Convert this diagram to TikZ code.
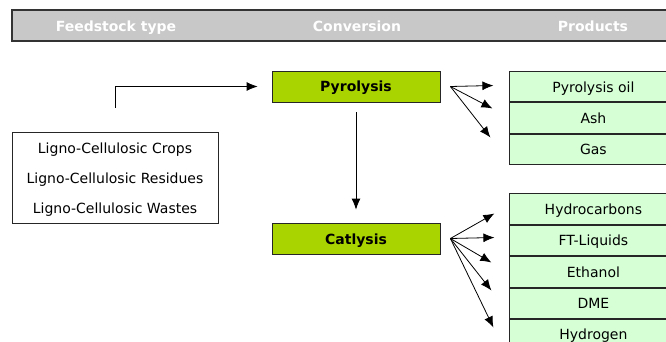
\documentclass[tikz,border=0pt]{standalone}
\usepackage{fontspec}
\setmainfont{DejaVu Sans}
\usetikzlibrary{arrows.meta}
\definecolor{headgray}{RGB}{200,200,200}
\definecolor{convgreen}{RGB}{170,212,0}
\definecolor{prodgreen}{RGB}{214,255,214}
\begin{document}
\begin{tikzpicture}[x=1pt, y=-1pt, line width=0.8pt,
  every node/.style={font=\fontsize{14}{16}\selectfont, inner sep=0pt},
  oneline/.style={text height=12.5pt, text depth=1.5pt},
  headtext/.style={oneline, text=white, font=\fontsize{14}{16}\selectfont\bfseries},
  convbox/.style={oneline, draw=black!85, fill=convgreen, minimum width=168pt, minimum height=31pt,
    font=\fontsize{14}{16}\selectfont\bfseries},
  prodbox/.style={oneline, draw=black!85, fill=prodgreen, minimum width=168pt, minimum height=30.5pt,
    anchor=north west},
  arr/.style={-{Latex[length=11pt, width=9pt]}}]
  \useasboundingbox (0,0) rectangle (666,342);
  \clip (0,0) rectangle (666,342);

  % header bar
  \draw[line width=1.5pt, draw=black!80, fill=headgray] (12,10) rectangle (680,41);
  \node[headtext] (hfeed) at (116,26) {Feedstock type};
  \node[headtext] (hconv) at (357,26) {Conversion};
  \node[headtext] (hprod) at (593,26) {Products};

  % feedstock
  \node[draw=black!85, minimum width=206pt, minimum height=91pt] (feed) at (115,177.5) {};
  \node[align=center, font=\fontsize{14}{30}\selectfont] (feedtext) at (115,180)
    {Ligno-Cellulosic Crops\\Ligno-Cellulosic Residues\\Ligno-Cellulosic Wastes};

  % conversion
  \node[convbox] (pyro) at (356,86.5) {Pyrolysis};
  \node[convbox] (catal) at (356,238.5) {Catlysis};

  % products
  \node[prodbox] (oil) at (509,71) {Pyrolysis oil};
  \node[prodbox] (ash) at (oil.south west) {Ash};
  \node[prodbox] (gas) at (ash.south west) {Gas};

  \node[prodbox, minimum height=30.7pt] (hc) at (509,193) {Hydrocarbons};
  \node[prodbox, minimum height=30.7pt] (ftl) at (hc.south west) {FT-Liquids};
  \node[prodbox, minimum height=30.7pt] (eth) at (ftl.south west) {Ethanol};
  \node[prodbox, minimum height=30.7pt] (dme) at (eth.south west) {DME};
  \node[prodbox, minimum height=30.7pt, text height=11.5pt, text depth=2.5pt] (hyd)
    at (dme.south west) {Hydrogen};

  % connectors
  \coordinate (feedout) at (115,108);
  \draw[arr] (feedout) |- ([xshift=-14pt]pyro.west);
  \draw[arr] ([yshift=-10pt]pyro.south) -- ([yshift=13pt]catal.north);

  \coordinate (pyrofan) at ([xshift=10pt]pyro.east);
  \foreach \dx/\dy in {43/-1, 42/22, 40/51}
    \draw[arr] (pyrofan) -- +(\dx,\dy);

  \coordinate (catalfan) at ([xshift=10pt]catal.east);
  \foreach \dx/\dy in {44/-25, 44/-1, 41/24, 41/52, 43/89}
    \draw[arr] (catalfan) -- +(\dx,\dy);
\end{tikzpicture}
\end{document}
